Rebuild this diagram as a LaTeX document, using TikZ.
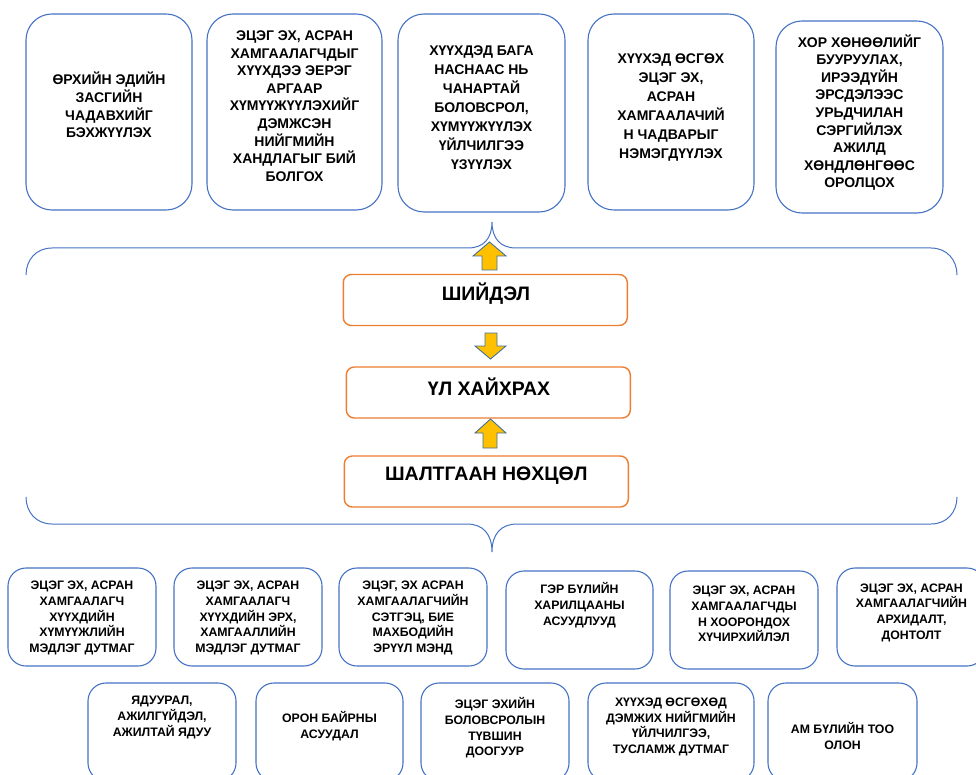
\documentclass[tikz,border=0pt]{standalone}
\usepackage{fontspec}
\setmainfont{Liberation Sans}
\definecolor{blueline}{HTML}{4472C4}
\definecolor{orangeline}{HTML}{ED7D31}
\definecolor{arrowfill}{HTML}{FFC000}
\definecolor{arrowline}{HTML}{41719C}
\begin{document}
\begin{tikzpicture}[
        x=1pt, y=-1pt,
        goal/.style={draw=blueline, line width=1.1pt, rounded corners=26pt, inner sep=0pt, minimum width=166pt, minimum height=196pt},
        cause/.style={draw=blueline, line width=1.1pt, rounded corners=18pt, inner sep=0pt, minimum width=148pt, minimum height=98pt},
        core/.style={draw=orangeline, line width=1.4pt, rounded corners=8pt, inner sep=0pt, minimum width=284pt, minimum height=51pt},
        goaltext/.style={align=center, inner sep=0pt, font=\fontsize{14}{17.6}\selectfont\bfseries},
        causetext/.style={align=center, inner sep=0pt, font=\fontsize{12.3}{15.7}\selectfont\bfseries},
        coretext/.style={inner sep=0pt, font=\fontsize{19.5}{22}\selectfont\bfseries},
        brace/.style={draw=blueline, line width=1pt},
        blockarrow/.style={fill=arrowfill, draw=arrowline, line width=0.9pt, line join=miter}
    ]
        \useasboundingbox (0,0) rectangle (976,775);

        % Хаалт
        \draw[brace] (26,275) .. controls (26,260) and (36,248) .. (52,248) -- (468,248)
            .. controls (484,248) and (492,238) .. (492,222) .. controls (492,238) and (500,248) .. (516,248)
            -- (931,248) .. controls (947,248) and (957,260) .. (957,275);
        \draw[brace] (26,497) .. controls (26,512) and (36,524) .. (52,524) -- (467,524)
            .. controls (483,524) and (492,534) .. (492,552) .. controls (492,534) and (501,524) .. (517,524)
            -- (931,524) .. controls (947,524) and (957,512) .. (957,497);

        % Дээд эгнээ
        \node[goal] (g1) at (109,112) {};
        \node[goaltext] (g1t) at (109,105) {ӨРХИЙН ЭДИЙН\\ЗАСГИЙН\\ЧАДАВХИЙГ\\БЭХЖҮҮЛЭХ};
        \node[goal, minimum width=175pt] (g2) at (294.5,112) {};
        \node[goaltext] (g2t) at (294.5,106) {ЭЦЭГ ЭХ, АСРАН\\ХАМГААЛАГЧДЫГ\\ХҮҮХДЭЭ ЭЕРЭГ\\АРГААР\\ХҮМҮҮЖҮҮЛЭХИЙГ\\ДЭМЖСЭН\\НИЙГМИЙН\\ХАНДЛАГЫГ БИЙ\\БОЛГОХ};
        \node[goal, minimum width=167pt, minimum height=198pt] (g3) at (481.5,113) {};
        \node[goaltext, font=\fontsize{14}{19}\selectfont\bfseries] (g3t) at (481.5,108) {ХҮҮХДЭД БАГА\\НАСНААС НЬ\\ЧАНАРТАЙ\\БОЛОВСРОЛ,\\ХҮМҮҮЖҮҮЛЭХ\\ҮЙЛЧИЛГЭЭ\\ҮЗҮҮЛЭХ};
        \node[goal] (g4) at (671,112) {};
        \node[goaltext, font=\fontsize{14}{19}\selectfont\bfseries] (g4t) at (671,108) {ХҮҮХЭД ӨСГӨХ\\ЭЦЭГ ЭХ,\\АСРАН\\ХАМГААЛАЧИЙ\\Н ЧАДВАРЫГ\\НЭМЭГДҮҮЛЭХ};
        \node[goal, minimum width=167pt, minimum height=192pt] (g5) at (859.5,117) {};
        \node[goaltext] (g5t) at (859.5,112.5) {ХОР ХӨНӨӨЛИЙГ\\БУУРУУЛАХ,\\ИРЭЭДҮЙН\\ЭРСДЭЛЭЭС\\УРЬДЧИЛАН\\СЭРГИЙЛЭХ\\АЖИЛД\\ХӨНДЛӨНГӨӨС\\ОРОЛЦОХ};

        % Гол хайрцаг
        \node[core] (sol) at (485.3,300) {};
        \node[coretext] (solt) at (486,294) {ШИЙДЭЛ};
        \node[core] (prob) at (488.3,392.5) {};
        \node[coretext] (probt) at (489,387) {ҮЛ ХАЙХРАХ};
        \node[core] (cond) at (486.3,481.5) {};
        \node[coretext] (condt) at (486.3,476) {ШАЛТГААН НӨХЦӨЛ};

        % Сум
        \draw[blockarrow] (482,270) -- (482,256) -- (473,256) -- (489.5,242) -- (506,256) -- (497,256) -- (497,270) -- cycle;
        \draw[blockarrow] (485,333) -- (497,333) -- (497,346) -- (506,346) -- (490.5,359) -- (475,346) -- (485,346) -- cycle;
        \draw[blockarrow] (483,448) -- (483,433) -- (475,433) -- (490.5,419) -- (506,433) -- (497,433) -- (497,448) -- cycle;

        % Доод эгнээ 1
        \node[cause] (c1) at (82,617) {};
        \node[causetext] (c1t) at (82,618) {ЭЦЭГ ЭХ, АСРАН\\ХАМГААЛАГЧ\\ХҮҮХДИЙН\\ХҮМҮҮЖЛИЙН\\МЭДЛЭГ ДУТМАГ};
        \node[cause] (c2) at (248,617) {};
        \node[causetext] (c2t) at (248,618) {ЭЦЭГ ЭХ, АСРАН\\ХАМГААЛАГЧ\\ХҮҮХДИЙН ЭРХ,\\ХАМГААЛЛИЙН\\МЭДЛЭГ ДУТМАГ};
        \node[cause] (c3) at (413,617) {};
        \node[causetext] (c3t) at (413,618) {ЭЦЭГ, ЭХ АСРАН\\ХАМГААЛАГЧИЙН\\СЭТГЭЦ, БИЕ\\МАХБОДИЙН\\ЭРҮҮЛ МЭНД};
        \node[cause, minimum width=147pt] (c4) at (579.5,620) {};
        \node[causetext] (c4t) at (579.5,605) {ГЭР БҮЛИЙН\\ХАРИЛЦААНЫ\\АСУУДЛУУД};
        \node[cause] (c5) at (744,620) {};
        \node[causetext] (c5t) at (744,614) {ЭЦЭГ ЭХ, АСРАН\\ХАМГААЛАГЧДЫ\\Н ХООРОНДОХ\\ХҮЧИРХИЙЛЭЛ};
        \node[cause] (c6) at (911,617) {};
        \node[causetext] (c6t) at (911.5,612.5) {ЭЦЭГ ЭХ, АСРАН\\ХАМГААЛАГЧИЙН\\АРХИДАЛТ,\\ДОНТОЛТ};

        % Доод эгнээ 2
        \node[cause] (c7) at (162,732) {};
        \node[causetext] (c7t) at (162,717.5) {ЯДУУРАЛ,\\АЖИЛГҮЙДЭЛ,\\АЖИЛТАЙ ЯДУУ};
        \node[cause, minimum width=147pt] (c8) at (329.5,732) {};
        \node[causetext] (c8t) at (329.5,726.5) {ОРОН БАЙРНЫ\\АСУУДАЛ};
        \node[cause] (c9) at (495,732) {};
        \node[causetext] (c9t) at (495,728) {ЭЦЭГ ЭХИЙН\\БОЛОВСРОЛЫН\\ТҮВШИН\\ДООГУУР};
        \node[cause, minimum width=166pt] (c10) at (671,732) {};
        \node[causetext] (c10t) at (671,727) {ХҮҮХЭД ӨСГӨХӨД\\ДЭМЖИХ НИЙГМИЙН\\ҮЙЛЧИЛГЭЭ,\\ТУСЛАМЖ ДУТМАГ};
        \node[cause, minimum width=149pt] (c11) at (842.5,732) {};
        \node[causetext] (c11t) at (842.5,736) {АМ БҮЛИЙН ТОО\\ОЛОН};

    \end{tikzpicture}
\end{document}
